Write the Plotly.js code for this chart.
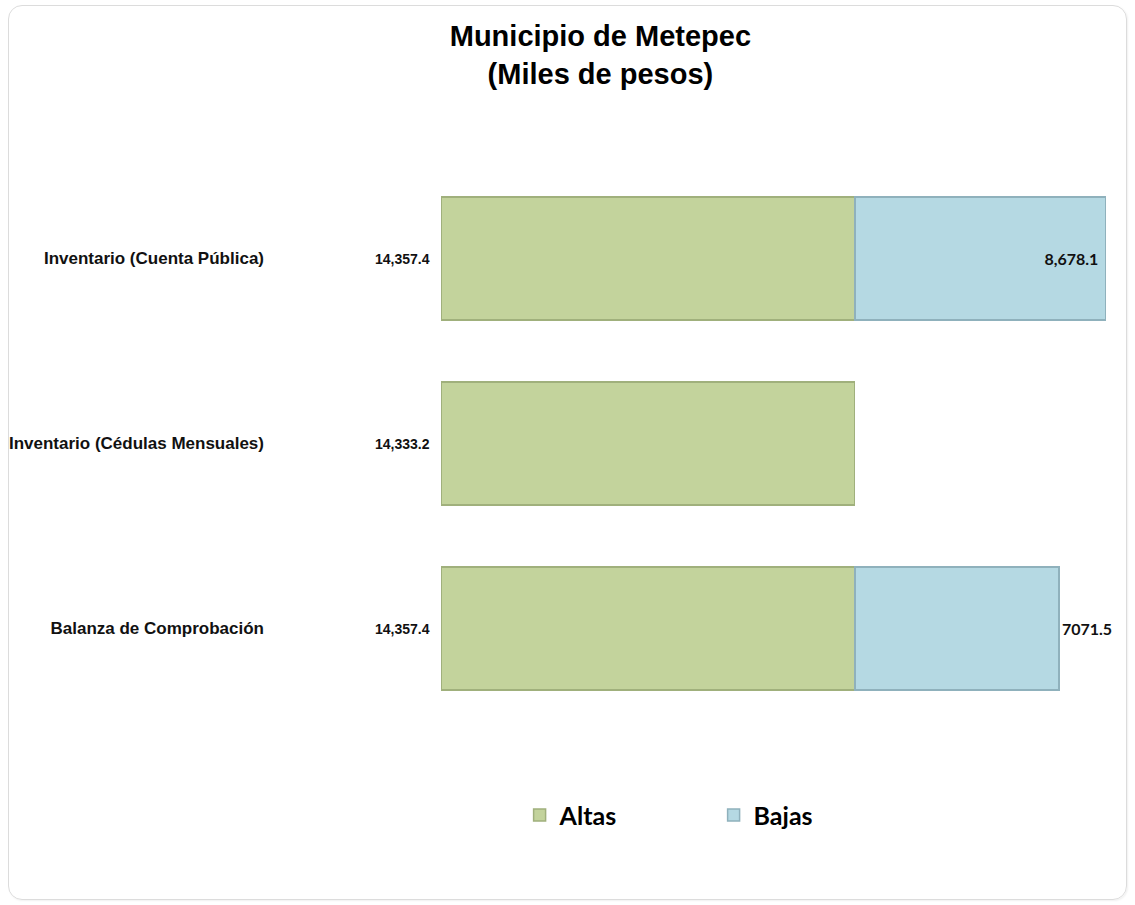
<!DOCTYPE html>
<html>
<head>
<meta charset="utf-8">
<script src="https://cdn.plot.ly/plotly-3.0.1.min.js"></script>
<style>
  html, body { margin: 0; padding: 0; background: #ffffff; }
  #wrap { position: relative; width: 1135px; height: 905px; }
  #chart { position: absolute; left: 0; top: 0; width: 1135px; height: 905px; }
  #frame { position: absolute; left: 8px; top: 5px; width: 1117px; height: 893px;
           border: 1px solid #dcdcdc; border-radius: 14px; pointer-events: none;
           box-shadow: 1px 1px 2px rgba(0,0,0,0.06); }
</style>
</head>
<body>
<div id="wrap">
  <div id="chart"></div>
  <div id="frame"></div>
</div>
<script>
const categories = ['Inventario (Cuenta Pública)', 'Inventario (Cédulas Mensuales)', 'Balanza de Comprobación'];
const altas = [14357.4, 14333.2, 14357.4];
const bajas = [8678.1, null, 7071.5];
const altasLabels = ['14,357.4', '14,333.2', '14,357.4'];
const bajasLabels = ['8,678.1\u00a0', '', '7071.5'];
const bajasLabelPos = ['inside', 'none', 'outside'];
const seriesNames = ['Altas', 'Bajas'];

const traces = [
  {
    type: 'bar', orientation: 'h', name: seriesNames[0],
    y: categories, x: altas,
    marker: { color: '#c3d39c', line: { color: '#a0b07c', width: 1.5 } },
    hoverinfo: 'x+y'
  },
  {
    type: 'bar', orientation: 'h', name: seriesNames[1],
    y: categories, x: bajas,
    text: bajasLabels, textposition: bajasLabelPos,
    insidetextanchor: 'end', cliponaxis: false,
    textfont: { family: 'Lato', size: 16, weight: 'bold', color: '#111111' },
    marker: { color: '#b5d9e3', line: { color: '#8fb1bc', width: 1.5 } },
    hoverinfo: 'x+y'
  }
];

const annotations = categories.map((c, i) => ({
  x: 0, y: c, xref: 'x', yref: 'y',
  text: altasLabels[i], showarrow: false,
  xanchor: 'right', xshift: -9,
  font: { family: 'Liberation Sans', size: 14, weight: 'bold', color: '#111111' }
}));

const layout = {
  width: 1135, height: 905,
  paper_bgcolor: '#ffffff', plot_bgcolor: '#ffffff',
  margin: { l: 441, r: 25, t: 166, b: 184 },
  barmode: 'stack', bargap: 0.335,
  showlegend: true,
  title: {
    text: 'Municipio de Metepec<br>(Miles de pesos)',
    font: { family: 'Liberation Sans', size: 29, weight: 'bold', color: '#000000' },
    x: 0.529, xref: 'container', xanchor: 'center',
    y: 0.949, yref: 'container', yanchor: 'middle'
  },
  xaxis: {
    range: [0, 23200], showgrid: false, zeroline: false,
    showticklabels: false, showline: false, ticks: ''
  },
  yaxis: {
    type: 'category', autorange: 'reversed',
    showgrid: false, zeroline: false, showline: false, ticks: '',
    ticklabelstandoff: 176,
    tickfont: { family: 'Liberation Sans', size: 17, weight: 'bold', color: '#111111' }
  },
  legend: {
    orientation: 'h', traceorder: 'normal',
    x: 0.1175, xanchor: 'left', y: -0.17, yanchor: 'middle',
    entrywidth: 149,
    font: { family: 'Lato', size: 25, weight: 'bold', color: '#000000' },
    itemclick: false, itemdoubleclick: false
  },
  annotations: annotations
};

Plotly.newPlot('chart', traces, layout, { displayModeBar: false, staticPlot: true });
</script>
</body>
</html>
